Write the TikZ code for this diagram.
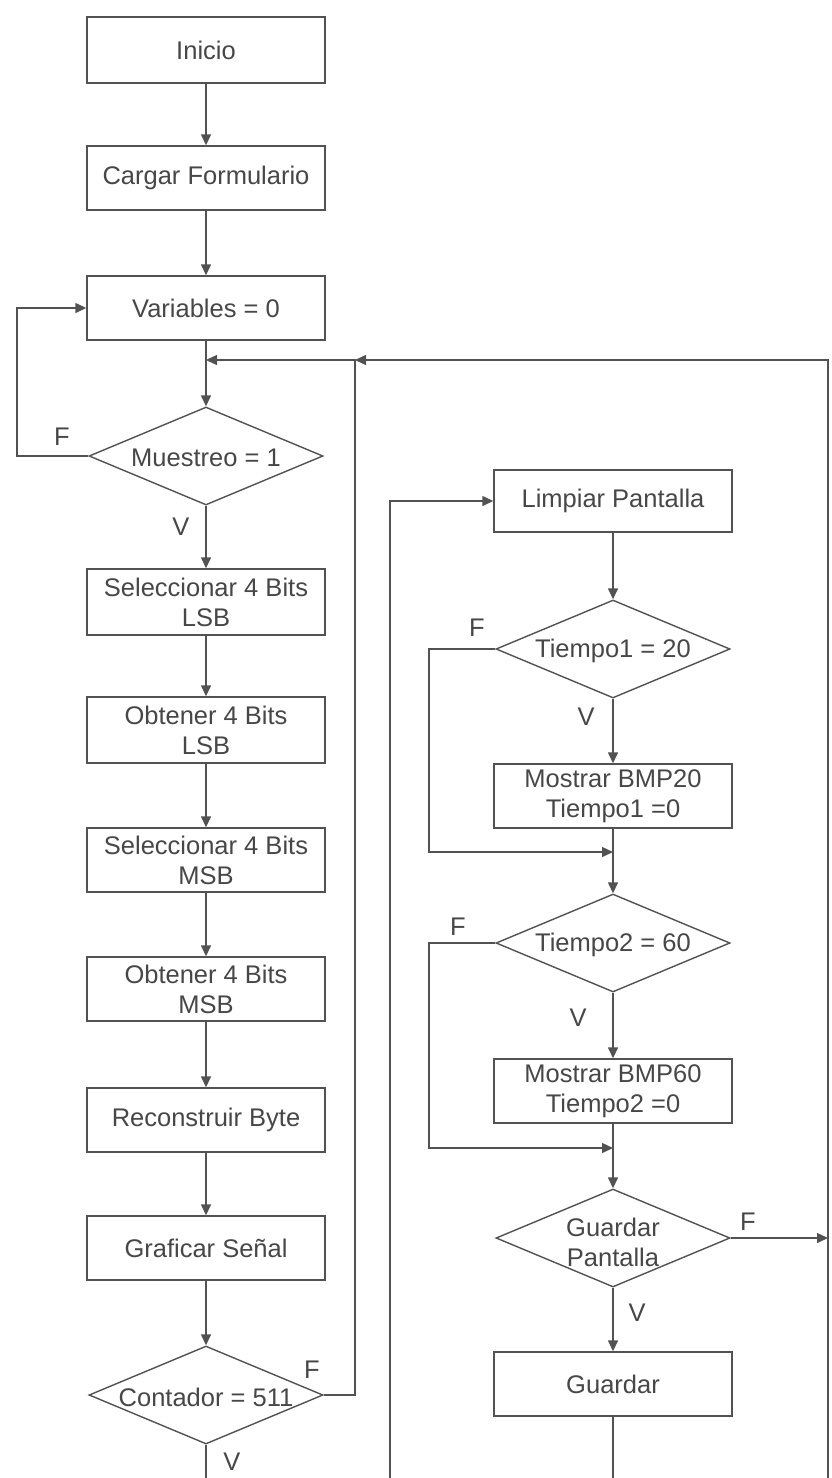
\documentclass[tikz,border=0pt]{standalone}
\usepackage{fontspec}
\setmainfont{Liberation Sans}
\usetikzlibrary{arrows.meta,shapes.geometric}
\begin{document}
\begin{tikzpicture}[x=1pt,y=-1pt,
  every node/.style={font=\fontsize{25.5}{30}\selectfont, text=black!72},
  proc/.style={draw=black!68, line width=1.4pt, rectangle, minimum width=238pt, minimum height=64pt, inner sep=0pt, align=center},
  dec/.style={draw=black!68, line width=1.4pt, diamond, minimum width=234pt, minimum height=98pt, inner sep=0pt},
  conn/.style={draw=black!68, line width=1.4pt},
  arr/.style={conn, -{Triangle[length=11pt,width=10pt]}},
  lbl/.style={inner sep=0pt, align=center}
]
\useasboundingbox (0,0) rectangle (831,1478);
\fill[white] (0,0) rectangle (831,1478);

% ---------------- left column ----------------
\node[proc, minimum height=66pt] (inicio) at (206,50) {Inicio};
\node[proc] (cargar) at (206,178) {Cargar Formulario};
\node[proc] (vars) at (206,308) {Variables = 0};
\node[dec] (muest) at (206,456) {};
\node[lbl] (muestt) at (206,458) {Muestreo = 1};
\node[proc, minimum height=66pt] (sel1) at (206,602) {Seleccionar 4 Bits\\LSB};
\node[proc, minimum height=66pt] (obt1) at (206,730) {Obtener 4 Bits\\LSB};
\node[proc] (sel2) at (206,860) {Seleccionar 4 Bits\\MSB};
\node[proc] (obt2) at (206,989) {Obtener 4 Bits\\MSB};
\node[proc] (recon) at (206,1120) {Reconstruir Byte};
\node[proc] (graf) at (206,1248) {Graficar Señal};
\node[dec] (cont) at (206,1395) {};
\node[lbl] (contt) at (206,1397) {Contador = 511};

% ---------------- right column ----------------
\node[proc, minimum height=62pt] (limp) at (613,501) {Limpiar Pantalla};
\node[dec] (t1) at (613,649) {};
\node[lbl] (t1t) at (613,651) {Tiempo1 = 20};
\node[proc] (bmp20) at (613,796) {Mostrar BMP20\\Tiempo1 =0};
\node[dec] (t2) at (613,943) {};
\node[lbl] (t2t) at (613,945) {Tiempo2 = 60};
\node[proc] (bmp60) at (613,1091) {Mostrar BMP60\\Tiempo2 =0};
\node[dec] (gp) at (613,1238) {};
\node[lbl] (gpt) at (613,1242) {Guardar\\Pantalla};
\node[proc] (guard) at (613,1384) {Guardar};

% ---------------- helper coordinates ----------------
\coordinate (j0) at (206,360);   % merge above Muestreo
\coordinate (jr) at (355,360);   % merge of right loop
\coordinate (rtop) at (828,360);
\coordinate (rbot) at (828,1478);
\coordinate (lbot) at (390,1478);
\coordinate (cbot) at (206,1478);
\coordinate (gbot) at (613,1478);
\coordinate (m20) at (613,852);
\coordinate (m60) at (613,1148);

% ---------------- connectors: left ----------------
\draw[arr] (inicio) -- (cargar);
\draw[arr] (cargar) -- (vars);
\draw[arr] (vars) -- (muest);
\draw[arr] (muest.west) -- (17,456) -- (17,308) -- (vars.west);
\node[lbl] (fm) at (62,437) {F};
\draw[arr] (muest) -- (sel1);
\node[lbl] (vm) at (181,527) {V};
\draw[arr] (sel1) -- (obt1);
\draw[arr] (obt1) -- (sel2);
\draw[arr] (sel2) -- (obt2);
\draw[arr] (obt2) -- (recon);
\draw[arr] (recon) -- (graf);
\draw[arr] (graf) -- (cont);
\draw[arr] (cont.east) -- (355,1395) -- (jr) -- (j0);
\node[lbl] (fc) at (312,1370) {F};
\draw[conn] (cont.south) -- (cbot);
\node[lbl] (vc) at (232,1462) {V};

% ---------------- connectors: outer loops ----------------
\draw[arr] (rbot) -- (rtop) -- (jr);
\draw[arr] (lbot) -- (390,501) -- (limp.west);

% ---------------- connectors: right ----------------
\draw[arr] (limp) -- (t1);
\draw[arr] (t1.west) -- (429,649) -- (429,852) -- (m20);
\node[lbl] (f1) at (477,628) {F};
\draw[arr] (t1) -- (bmp20);
\node[lbl] (v1) at (586,717) {V};
\draw[arr] (bmp20) -- (t2);
\draw[arr] (t2.west) -- (429,943) -- (429,1148) -- (m60);
\node[lbl] (f2) at (458,927) {F};
\draw[arr] (t2) -- (bmp60);
\node[lbl] (v2) at (578,1018) {V};
\draw[arr] (bmp60) -- (gp);
\draw[arr] (gp.east) -- (828,1238);
\node[lbl] (f3) at (748,1222) {F};
\draw[arr] (gp) -- (guard);
\node[lbl] (v3) at (637,1313) {V};
\draw[conn] (guard.south) -- (gbot);
\end{tikzpicture}
\end{document}
